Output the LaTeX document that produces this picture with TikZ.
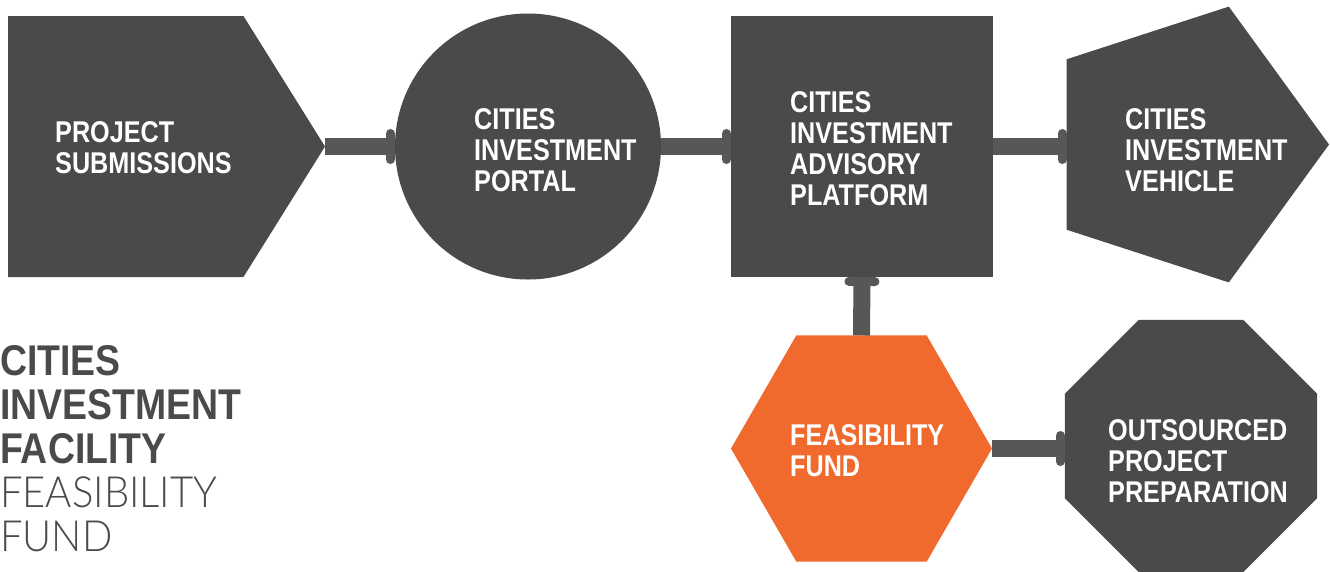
\documentclass[tikz,border=0pt]{standalone}
\usepackage{fontspec}
\setmainfont{Liberation Sans}[FakeStretch=0.84]
\newfontfamily\titlefont{Liberation Sans}[FakeStretch=0.87]
\newfontfamily\thinfont{Lato Light}[FakeStretch=0.93]
\usetikzlibrary{shapes.geometric,shapes.symbols,arrows.meta}

\definecolor{slate}{HTML}{4A494B}
\definecolor{linkgray}{HTML}{575758}
\definecolor{fundorange}{HTML}{F0692D}

\tikzset{
  block/.style={fill=slate, draw=none, inner sep=0pt, outer sep=0pt},
  caption/.style={text=white, anchor=west, inner sep=0pt, align=left,
    font=\fontsize{30}{31}\selectfont\bfseries},
  link/.style={draw=linkgray, line width=17pt,
    -{Bar[width=26pt, line width=9pt, round]}},
}

\begin{document}
\begin{tikzpicture}[x=1pt, y=-1pt]
  \useasboundingbox (0,0) rectangle (1330,571);

  % top row
  \node[block, signal, signal to=east, signal pointer angle=116,
    minimum width=317, minimum height=261, anchor=west] (submit) at (8,146.5) {};
  \node[block, circle, minimum size=266] (portal) at (528,146.5) {};
  \node[block, rectangle, minimum width=262, minimum height=261] (advisory) at (862,146.5) {};
  \node[block, regular polygon, regular polygon sides=5, shape border rotate=-90,
    minimum size=290] (vehicle) at (1184,144.5) {};

  % bottom row
  \node[block, fill=fundorange, regular polygon, regular polygon sides=6,
    minimum size=261] (fund) at (861.5,448.5) {};
  \node[block, regular polygon, regular polygon sides=8,
    minimum size=273] (outsourced) at (1191,446) {};

  % connectors
  \draw[link] (submit.east) -- (portal.west);
  \draw[link] (portal.east) -- (advisory.west);
  \draw[link] (advisory.east) -- (advisory.east -| vehicle.west);
  \draw[link] (fund.north) -- (advisory.south);
  \draw[link] (fund.east) -- (fund.east -| outsourced.west);

  % captions
  \node[caption] (submit-txt) at (55,148) {PROJECT\\SUBMISSIONS};
  \node[caption] (portal-txt) at (474,150.5) {CITIES\\INVESTMENT\\PORTAL};
  \node[caption] (advisory-txt) at (790,149) {CITIES\\INVESTMENT\\ADVISORY\\PLATFORM};
  \node[caption] (vehicle-txt) at (1125,150) {CITIES\\INVESTMENT\\VEHICLE};
  \node[caption] (fund-txt) at (790,450.5) {FEASIBILITY\\FUND};
  \node[caption] (outsourced-txt) at (1108,461) {OUTSOURCED\\PROJECT\\PREPARATION};

  % title
  \node[anchor=north west, inner sep=0pt, align=left, text=slate,
    font=\fontsize{43}{44}\selectfont] (title) at (0,345)
    {\titlefont\bfseries CITIES\\\titlefont\bfseries INVESTMENT\\\titlefont\bfseries FACILITY\\
     {\thinfont FEASIBILITY}\\{\thinfont FUND}};
\end{tikzpicture}
\end{document}
